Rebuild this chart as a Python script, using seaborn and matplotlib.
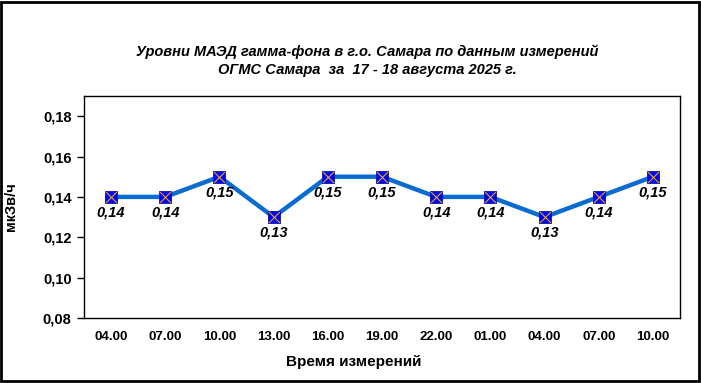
import matplotlib
matplotlib.use("Agg")
import matplotlib.pyplot as plt
import seaborn as sns
import numpy as np
from matplotlib.patches import Rectangle
from matplotlib.ticker import FuncFormatter

times = ["04.00", "07.00", "10.00", "13.00", "16.00", "19.00", "22.00",
         "01.00", "04.00", "07.00", "10.00"]
values = [0.14, 0.14, 0.15, 0.13, 0.15, 0.15, 0.14, 0.14, 0.13, 0.14, 0.15]

sns.set_style("white")
plt.rcParams["font.family"] = ["Liberation Sans", "DejaVu Sans"]
plt.rcParams.update({"text.color": "black", "axes.labelcolor": "black",
                     "xtick.color": "black", "ytick.color": "black"})

fig = plt.figure(figsize=(7.01, 3.83), dpi=100)
ax = fig.add_axes([84 / 701, 1 - 318 / 383, 596 / 701, 222 / 383])

x = np.arange(len(values))
sns.lineplot(x=x, y=values, ax=ax, color="#0a6cd0", linewidth=3.2, zorder=2)
sns.scatterplot(x=x, y=values, ax=ax, marker="s", s=80, color="#0000ff",
                edgecolor="#1010a0", linewidth=0.6, zorder=3)
ax.scatter(x, values, marker="x", s=60, color="#e8a317", linewidths=0.8, zorder=4)

for xi, v in zip(x, values):
    ax.annotate(f"{v:.2f}".replace(".", ","), (xi, v), xytext=(0, -6),
                textcoords="offset points", ha="center", va="top",
                fontsize=10.5, fontweight="bold", fontstyle="italic", zorder=5)

ax.set_xlim(-0.5, len(values) - 0.5)
ax.set_ylim(0.08, 0.19)
ax.set_yticks([0.08, 0.10, 0.12, 0.14, 0.16, 0.18])
ax.yaxis.set_major_formatter(FuncFormatter(lambda v, p: f"{v:.2f}".replace(".", ",")))
ax.set_xticks(x)
ax.set_xticklabels(times)
ax.set_xticks([-0.5, 7.5], minor=True)
ax.tick_params(axis="x", which="major", length=0, pad=9, labelsize=9.5)
ax.tick_params(axis="x", which="minor", length=4, direction="inout", width=1)
ax.tick_params(axis="y", length=5, width=1, direction="out", labelsize=10.5, left=True, pad=4)
for lab in ax.get_xticklabels() + ax.get_yticklabels():
    lab.set_fontweight("bold")

for s in ax.spines.values():
    s.set_color("black")
    s.set_linewidth(1)

ax.set_xlabel("Время измерений", fontsize=11, fontweight="bold")
ax.xaxis.set_label_coords((354 - 84) / 596, -37 / 222)
ax.set_ylabel("мкЗв/ч", fontsize=10.5, fontweight="bold")
ax.yaxis.set_label_coords(-66 / 596, 0.5)

fig.text(367 / 701, 1 - 52 / 383, "Уровни МАЭД гамма-фона в г.о. Самара по данным измерений",
         ha="center", va="center", fontsize=10.5, fontweight="bold", fontstyle="italic")
fig.text(367 / 701, 1 - 70 / 383, "ОГМС Самара  за  17 - 18 августа 2025 г.",
         ha="center", va="center", fontsize=10.5, fontweight="bold", fontstyle="italic")

fig.patches.append(Rectangle((0.002, 0.004), 0.995, 0.992, transform=fig.transFigure,
                             fill=False, edgecolor="black", linewidth=2))

fig.savefig("out.png", dpi=100)
